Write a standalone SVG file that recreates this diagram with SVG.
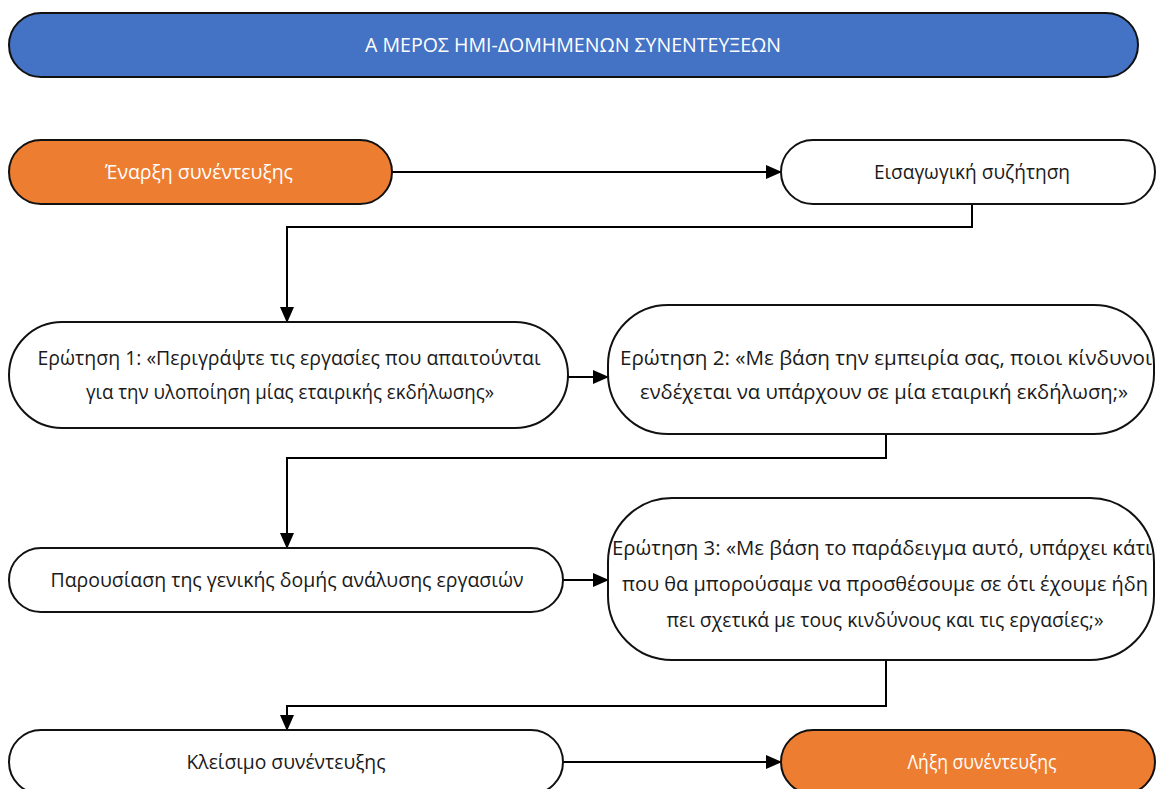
<svg xmlns="http://www.w3.org/2000/svg" width="1156" height="789" viewBox="0 0 1156 789">
  <style>
    .node { stroke: #111; stroke-width: 2; }
    .plain { fill: #fff; }
    .blue { fill: #4472C4; }
    .orange { fill: #ED7D31; }
    .label { font-family: "Open Sans", "Noto Sans", "Liberation Sans", sans-serif; font-size: 20px; fill: #1a1a1a; text-anchor: middle; }
    .light { fill: #fff; }
    .conn { fill: none; stroke: #000; stroke-width: 2; }
  </style>
  <defs>
    <marker id="arrow" markerUnits="userSpaceOnUse" markerWidth="16" markerHeight="14" refX="15" refY="7" orient="auto">
      <path d="M0,0 L16,7 L0,14 Z" fill="#000"/>
    </marker>
  </defs>

  <rect width="1156" height="789" fill="#fff"/>

  <!-- Title banner -->
  <g id="title">
    <rect class="node blue" x="9" y="13" width="1129" height="64" rx="32" ry="32"/>
    <text class="label light" x="573" y="52" textLength="416" lengthAdjust="spacingAndGlyphs" font-size="17">Α ΜΕΡΟΣ ΗΜΙ-ΔΟΜΗΜΕΝΩΝ ΣΥΝΕΝΤΕΥΞΕΩΝ</text>
  </g>

  <!-- Connectors -->
  <g id="connectors">
    <path class="conn" d="M392,172 H781" marker-end="url(#arrow)"/>
    <path class="conn" d="M972,204 V227 H287 V322" marker-end="url(#arrow)"/>
    <path class="conn" d="M568,377 H608" marker-end="url(#arrow)"/>
    <path class="conn" d="M886,434 V458 H287 V548" marker-end="url(#arrow)"/>
    <path class="conn" d="M563,580 H608" marker-end="url(#arrow)"/>
    <path class="conn" d="M886,660 V706 H287 V730" marker-end="url(#arrow)"/>
    <path class="conn" d="M563,762 H781" marker-end="url(#arrow)"/>
  </g>

  <g id="start">
    <rect class="node orange" x="9" y="140" width="383" height="64" rx="32" ry="32"/>
    <text class="label light" x="199" y="179" textLength="188" lengthAdjust="spacingAndGlyphs">Έναρξη συνέντευξης</text>
  </g>

  <g id="intro">
    <rect class="node plain" x="781" y="140" width="374" height="64" rx="32" ry="32"/>
    <text class="label" x="972" y="179" textLength="196" lengthAdjust="spacingAndGlyphs">Εισαγωγική συζήτηση</text>
  </g>

  <g id="question1">
    <rect class="node plain" x="9" y="322" width="559" height="106" rx="53" ry="53"/>
    <text class="label" x="289" y="365" textLength="503" lengthAdjust="spacingAndGlyphs">Ερώτηση 1: «Περιγράψτε τις εργασίες που απαιτούνται</text>
    <text class="label" x="290" y="399" textLength="408" lengthAdjust="spacingAndGlyphs">για την υλοποίηση μίας εταιρικής εκδήλωσης»</text>
  </g>

  <g id="question2">
    <rect class="node plain" x="608" y="305" width="546" height="129" rx="60" ry="60"/>
    <text class="label" x="886" y="365" textLength="532" lengthAdjust="spacingAndGlyphs">Ερώτηση 2: «Με βάση την εμπειρία σας, ποιοι κίνδυνοι</text>
    <text class="label" x="884" y="399" textLength="488" lengthAdjust="spacingAndGlyphs">ενδέχεται να υπάρχουν σε μία εταιρική εκδήλωση;»</text>
  </g>

  <g id="structure">
    <rect class="node plain" x="9" y="548" width="554" height="64" rx="32" ry="32"/>
    <text class="label" x="287" y="587" textLength="473" lengthAdjust="spacingAndGlyphs">Παρουσίαση της γενικής δομής ανάλυσης εργασιών</text>
  </g>

  <g id="question3">
    <rect class="node plain" x="608" y="498" width="546" height="162" rx="64" ry="64"/>
    <text class="label" x="882" y="555" textLength="540" lengthAdjust="spacingAndGlyphs">Ερώτηση 3: «Με βάση το παράδειγμα αυτό, υπάρχει κάτι</text>
    <text class="label" x="885" y="591" textLength="526" lengthAdjust="spacingAndGlyphs">που θα μπορούσαμε να προσθέσουμε σε ότι έχουμε ήδη</text>
    <text class="label" x="885" y="627" textLength="437" lengthAdjust="spacingAndGlyphs">πει σχετικά με τους κινδύνους και τις εργασίες;»</text>
  </g>

  <g id="closing">
    <rect class="node plain" x="9" y="730" width="554" height="64" rx="32" ry="32"/>
    <text class="label" x="286" y="769" textLength="199" lengthAdjust="spacingAndGlyphs">Κλείσιμο συνέντευξης</text>
  </g>

  <g id="end">
    <rect class="node orange" x="781" y="730" width="374" height="64" rx="32" ry="32"/>
    <text class="label light" x="982" y="769" textLength="149" lengthAdjust="spacingAndGlyphs">Λήξη συνέντευξης</text>
  </g>
</svg>
